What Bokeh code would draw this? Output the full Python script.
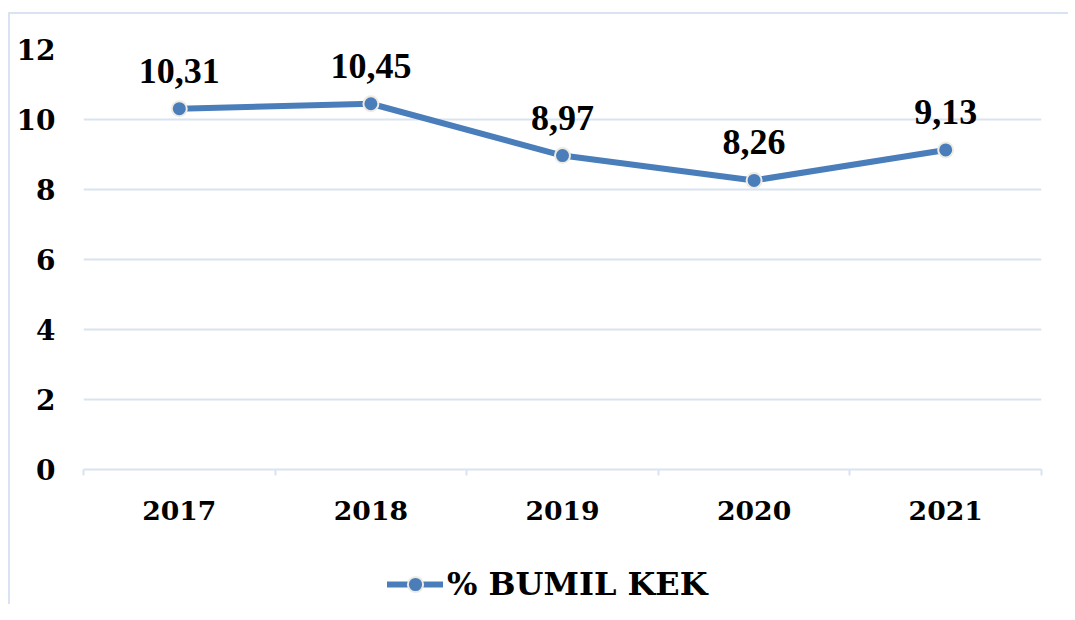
from bokeh.plotting import figure
from bokeh.layouts import column
from bokeh.models import ColumnDataSource, FixedTicker, LabelSet, Legend, LegendItem, Range1d
from bokeh.embed import file_html
from bokeh.resources import INLINE

years = ["2017", "2018", "2019", "2020", "2021"]
values = [10.31, 10.45, 8.97, 8.26, 9.13]
y_ticks = [0, 2, 4, 6, 8, 10, 12]
series_name = "% BUMIL KEK"

FONT = "DejaVu Serif"
LINE_COLOR = "#4a7ebb"
GRID_COLOR = "#d9e3f1"
MARKER_EDGE = "#eeebe2"

xs = [i + 0.5 for i in range(len(years))]
labels = [f"{v:.2f}".replace(".", ",") for v in values]
src = ColumnDataSource(dict(x=xs, y=values, label=labels))

p = figure(frame_width=958, frame_height=420, output_backend="svg", toolbar_location=None,
           x_range=Range1d(0, len(years)), y_range=Range1d(0, 12),
           min_border_left=73, min_border_top=35, min_border_right=27, min_border_bottom=70)
p.outline_line_color = None
p.background_fill_color = "white"
p.border_fill_color = "white"

line = p.line("x", "y", source=src, line_color=LINE_COLOR, line_width=6, line_cap="round")
pts = p.scatter("x", "y", source=src, size=15, fill_color=LINE_COLOR, line_color=MARKER_EDGE, line_width=2)

lbl = LabelSet(x="x", y="y", text="label", source=src, text_align="center", text_baseline="alphabetic",
               y_offset=26, text_font=FONT, text_font_style="bold", text_font_size="27pt", text_color="black")
p.add_layout(lbl)

# x axis
p.xaxis.ticker = FixedTicker(ticks=xs, minor_ticks=list(range(len(years) + 1)))
p.xaxis.major_label_overrides = {x: y for x, y in zip(xs, years)}
p.xaxis.axis_line_color = GRID_COLOR
p.xaxis.axis_line_width = 2
p.xaxis.major_tick_line_color = None
p.xaxis.major_tick_out = 0
p.xaxis.major_tick_in = 0
p.xaxis.minor_tick_line_color = GRID_COLOR
p.xaxis.minor_tick_line_width = 2
p.xaxis.minor_tick_out = 6
p.xaxis.minor_tick_in = 0
p.xaxis.major_label_standoff = 25
p.xaxis.major_label_text_font = FONT
p.xaxis.major_label_text_font_style = "bold"
p.xaxis.major_label_text_font_size = "20pt"
p.xaxis.major_label_text_color = "black"
p.xgrid.grid_line_color = None

# y axis
p.yaxis.ticker = FixedTicker(ticks=y_ticks)
p.yaxis.axis_line_color = None
p.yaxis.major_tick_line_color = None
p.yaxis.minor_tick_line_color = None
p.yaxis.major_tick_out = 0
p.yaxis.major_tick_in = 0
p.yaxis.major_label_standoff = 28
p.yaxis.major_label_text_font = FONT
p.yaxis.major_label_text_font_style = "bold"
p.yaxis.major_label_text_font_size = "21pt"
p.yaxis.major_label_text_color = "black"
p.ygrid.grid_line_color = GRID_COLOR
p.ygrid.grid_line_width = 2

# legend strip below the chart (its renderers share the data but fall outside this strip's range)
p2 = figure(frame_width=958, frame_height=65, output_backend="svg", toolbar_location=None,
            x_range=Range1d(0, len(years)), y_range=Range1d(0, 1),
            min_border_left=73, min_border_right=27, min_border_top=0, min_border_bottom=0)
p2.outline_line_color = None
p2.axis.visible = False
p2.grid.grid_line_color = None
p2.border_fill_color = "white"
l_line = p2.line("x", "y", source=src, line_color=LINE_COLOR, line_width=6, line_cap="round")
l_pts = p2.scatter("x", "y", source=src, size=15, fill_color=LINE_COLOR, line_color=MARKER_EDGE, line_width=2)
legend = Legend(items=[LegendItem(label=series_name, renderers=[l_line, l_pts])], orientation="horizontal",
                location=(304, 1), glyph_width=56, glyph_height=38, label_text_font=FONT,
                label_text_font_style="bold", label_text_font_size="24pt", label_text_color="black",
                border_line_color=None, background_fill_alpha=0, margin=0, padding=4, label_standoff=4)
p2.add_layout(legend, "center")

layout = column(p, p2, spacing=0,
                styles={"border-left": "2px solid #d9e3f1", "border-top": "2px solid #d9e3f1",
                        "margin-top": "12px", "margin-left": "8px"})

open("out.html", "w").write(file_html(layout, INLINE))
